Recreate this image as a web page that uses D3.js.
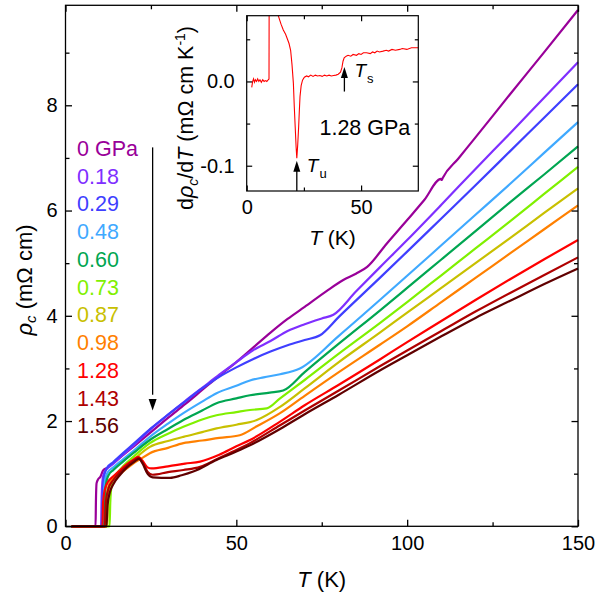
<!DOCTYPE html>
<html>
<head>
<meta charset="utf-8">
<script src="https://cdn.jsdelivr.net/npm/d3@7"></script>
<style>
  body { margin: 0; background: #fff; }
  svg { font-family: "Liberation Sans", Arial, sans-serif; }
</style>
</head>
<body>
<div id="chart"></div>
<script>
// Pressure labels and line colours (one per curve)
const pressures = ["0 GPa", "0.18", "0.29", "0.48", "0.60", "0.73", "0.87", "0.98", "1.28", "1.43", "1.56"];
const colors = ["#990099", "#7f2fff", "#3f3fff", "#3fa9ff", "#00a651", "#80f000", "#c8c000", "#ff8000", "#ff0000", "#b00000", "#600000"];

// Temperature (K) and resistivity rho_c (mOhm cm)
const T_000 = [1.8, 8.8, 8.9, 9.1, 9.6, 10.2, 11, 12.5, 14, 17, 20, 25, 30, 35, 40, 45, 50, 55, 60, 65, 70, 76.4, 81.3, 85, 88.3, 94, 100, 105, 109.9, 110.1, 110.4, 115, 120, 130, 140, 150];
const R_000 = [0, 0, 0.45, 0.82, 0.9, 0.94, 1.06, 1.12, 1.2, 1.36, 1.52, 1.79, 2.06, 2.32, 2.59, 2.86, 3.12, 3.40, 3.68, 3.94, 4.17, 4.47, 4.68, 4.8, 4.93, 5.37, 5.82, 6.2, 6.6, 6.58, 6.62, 6.99, 7.39, 8.2, 9.0, 9.81];
const T_018 = [1.8, 10.4, 10.6, 11, 12, 14, 17, 20, 25, 30, 35, 40, 45, 50, 55, 60, 65, 70, 75, 78.4, 85, 92, 100, 110, 120, 130, 140, 150];
const R_018 = [0, 0, 0.6, 0.95, 1.08, 1.19, 1.37, 1.54, 1.85, 2.12, 2.38, 2.63, 2.88, 3.12, 3.35, 3.52, 3.71, 3.84, 3.95, 4.02, 4.46, 4.92, 5.44, 6.11, 6.79, 7.46, 8.14, 8.82];
const T_029 = [1.8, 10.7, 10.9, 11.3, 12, 14, 17, 20, 25, 30, 35, 40, 45, 50, 55, 60, 65, 70, 74.5, 80, 92, 100, 110, 120, 130, 140, 150];
const R_029 = [0, 0, 0.6, 0.95, 1.1, 1.22, 1.4, 1.57, 1.86, 2.12, 2.37, 2.62, 2.84, 3.02, 3.18, 3.32, 3.44, 3.54, 3.63, 3.98, 4.72, 5.22, 5.85, 6.48, 7.12, 7.76, 8.40];
const T_048 = [1.8, 11.0, 11.2, 11.6, 12.3, 14, 17, 20, 24.7, 30, 34.5, 40, 44.2, 50, 54, 58, 62.8, 68.6, 80, 92, 100, 110, 120, 130, 140, 150];
const R_048 = [0, 0, 0.55, 0.88, 1.02, 1.12, 1.28, 1.44, 1.70, 1.95, 2.15, 2.37, 2.53, 2.67, 2.77, 2.83, 2.89, 3.0, 3.62, 4.3, 4.76, 5.34, 5.92, 6.5, 7.09, 7.68];
const T_060 = [1.8, 11.3, 11.5, 11.9, 12.6, 14, 17, 20, 24.7, 30, 34.5, 40, 44.2, 50, 54, 59.8, 63.7, 70, 80, 92, 100, 110, 120, 130, 140, 150];
const R_060 = [0, 0, 0.5, 0.82, 0.97, 1.07, 1.24, 1.4, 1.64, 1.85, 2.02, 2.2, 2.34, 2.43, 2.49, 2.54, 2.58, 2.93, 3.47, 4.1, 4.53, 5.07, 5.61, 6.15, 6.68, 7.22];
const T_073 = [1.8, 12.9, 13.1, 13.5, 14.2, 15, 17, 20, 24.7, 30, 34.5, 40, 44.2, 50, 54, 58.9, 62.8, 70, 80, 92, 100, 110, 120, 130, 140, 150];
const R_073 = [0, 0, 0.45, 0.78, 0.92, 1.0, 1.15, 1.33, 1.58, 1.76, 1.89, 2.03, 2.11, 2.17, 2.21, 2.24, 2.43, 2.78, 3.28, 3.86, 4.26, 4.77, 5.28, 5.79, 6.31, 6.83];
const T_087 = [1.8, 12.2, 12.4, 12.8, 13.5, 15, 17, 20, 24.7, 30, 34.5, 40, 44.2, 50, 56, 62.8, 70, 80, 92, 100, 110, 120, 130, 140, 150];
const R_087 = [0, 0, 0.45, 0.75, 0.88, 0.98, 1.1, 1.27, 1.51, 1.62, 1.70, 1.79, 1.86, 1.93, 2.02, 2.27, 2.62, 3.12, 3.68, 4.06, 4.53, 5.0, 5.47, 5.95, 6.42];
const T_098 = [1.8, 11.8, 12.0, 12.4, 13.2, 14.5, 17, 20, 22, 24.7, 30, 34.5, 40, 45, 51, 56, 62.8, 70, 80, 92, 100, 110, 120, 130, 140, 150];
const R_098 = [0, 0, 0.45, 0.72, 0.85, 0.93, 1.05, 1.2, 1.28, 1.39, 1.49, 1.58, 1.63, 1.68, 1.73, 1.9, 2.15, 2.48, 2.93, 3.45, 3.8, 4.26, 4.72, 5.18, 5.64, 6.10];
const T_128 = [1.8, 10.8, 11.0, 11.5, 12.5, 14, 16, 18, 20, 21.3, 22.5, 24, 25.2, 30, 35, 39.4, 45, 50, 54, 62.8, 70, 80, 92, 100, 110, 120, 130, 140, 150];
const R_128 = [0, 0, 0.45, 0.7, 0.85, 0.95, 1.07, 1.18, 1.27, 1.32, 1.25, 1.12, 1.10, 1.14, 1.19, 1.23, 1.36, 1.52, 1.64, 1.99, 2.3, 2.69, 3.17, 3.5, 3.9, 4.3, 4.69, 5.07, 5.44];
const T_143 = [1.8, 11.5, 11.8, 12.5, 14, 16, 18, 20, 21.5, 22.5, 24, 25.5, 30, 34.5, 39.4, 45, 50, 54, 62.8, 70, 80, 92, 100, 110, 120, 130, 140, 150];
const R_143 = [0, 0, 0.45, 0.7, 0.88, 1.03, 1.15, 1.25, 1.3, 1.22, 1.04, 0.98, 1.03, 1.07, 1.13, 1.3, 1.45, 1.58, 1.92, 2.2, 2.58, 3.04, 3.34, 3.71, 4.08, 4.43, 4.77, 5.11];
const T_156 = [1.8, 12.0, 12.3, 13, 14, 16, 18, 20, 21.5, 22.5, 24, 25.5, 30.6, 34, 37.4, 44.2, 50, 54, 62.8, 70, 80, 92, 100, 110, 120, 130, 140, 150];
const R_156 = [0, 0, 0.4, 0.65, 0.8, 0.98, 1.12, 1.22, 1.28, 1.2, 1.0, 0.93, 0.92, 0.97, 1.04, 1.26, 1.42, 1.54, 1.85, 2.13, 2.5, 2.96, 3.25, 3.61, 3.96, 4.28, 4.6, 4.90];

const temps = [T_000, T_018, T_029, T_048, T_060, T_073, T_087, T_098, T_128, T_143, T_156];
const rhos = [R_000, R_018, R_029, R_048, R_060, R_073, R_087, R_098, R_128, R_143, R_156];

// Inset: d(rho_c)/dT at 1.28 GPa
const insetT = [2.2, 2.6, 3.0, 3.4, 3.8, 4.3, 4.8, 5.3, 5.8, 6.4, 7.0, 7.6, 8.2, 8.8, 9.4, 9.75, 9.85, 13.2, 13.8, 15, 16, 17, 17.7, 18.5, 19.2, 19.8, 20.4, 20.8, 21.2, 21.6, 21.9, 22.3, 22.7, 23.0, 23.3, 23.8, 24.4, 25.2, 26.2, 27, 28, 29, 30, 31, 32, 33, 34, 35, 36, 37, 38, 39, 40, 41, 41.6, 42.1, 42.6, 43.5, 44.3, 45.5, 46.5, 48, 49, 50, 51, 52.4, 54, 55, 56, 57, 58, 59.6, 61, 62, 63.5, 65, 66.9, 68, 70, 72, 74.9];
const insetD = [-0.007, 0.0, 0.003, -0.001, 0.002, 0.0, 0.003, 0.0, 0.002, -0.001, 0.002, 0.0, 0.001, 0.0, 0.002, 0.003, 0.15, 0.15, 0.078, 0.068, 0.061, 0.056, 0.051, 0.045, 0.037, 0.02, -0.002, -0.03, -0.054, -0.078, -0.091, -0.075, -0.054, -0.035, -0.018, -0.005, 0.0015, 0.005, 0.0065, 0.0055, 0.0075, 0.006, 0.0075, 0.0065, 0.007, 0.006, 0.0075, 0.0065, 0.0075, 0.0065, 0.007, 0.0075, 0.0085, 0.011, 0.016, 0.024, 0.028, 0.03, 0.031, 0.030, 0.032, 0.031, 0.033, 0.032, 0.034, 0.034, 0.033, 0.035, 0.034, 0.036, 0.035, 0.036, 0.037, 0.036, 0.038, 0.037, 0.038, 0.039, 0.038, 0.04, 0.04];

// Tick values
const xMajor = [0, 50, 100, 150], xMinor = [25, 75, 125];
const yMajor = [0, 2, 4, 6, 8], yMinor = [1, 3, 5, 7, 9];
const ixMajor = [0, 50], ixMinor = [25];
const iyMajor = [-0.1, 0.0], iyMinor = [-0.05, 0.05];

// Set dimensions and margins for the chart
const W = 599, H = 597;
const margin = { top: 5.3, left: 65.5 };
const width = 512.5, height = 521;

const svg = d3.select("#chart")
    .append("svg")
    .attr("width", W)
    .attr("height", H);

const g = svg.append("g")
    .attr("transform", `translate(${margin.left},${margin.top})`);

const x = d3.scaleLinear().domain([0, 150]).range([0, width]);
const y = d3.scaleLinear().domain([0, 9.9]).range([height, 0]);

// draws a frame with inward ticks on all four sides
function drawFrame(sel, xs, ys, w, h, o) {
    const none = () => "";
    const parts = [
        [d3.axisBottom, xs, `translate(0,${h})`, o.xMajor, o.xMinor, o.xFmt, o.padX],
        [d3.axisTop, xs, null, o.xMajor, o.xMinor, none, 0],
        [d3.axisLeft, ys, null, o.yMajor, o.yMinor, o.yFmt, o.padY],
        [d3.axisRight, ys, `translate(${w},0)`, o.yMajor, o.yMinor, none, 0]
    ];
    parts.forEach(([make, sc, tr, maj, min, fmt, pad]) => {
        const a1 = sel.append("g").call(make(sc).tickValues(maj).tickSizeInner(-o.major).tickSizeOuter(0).tickFormat(fmt).tickPadding(pad));
        const a2 = sel.append("g").call(make(sc).tickValues(min).tickSizeInner(-o.minor).tickSizeOuter(0).tickFormat(none));
        [a1, a2].forEach(a => {
            if (tr) a.attr("transform", tr);
            a.select(".domain").remove();
            a.selectAll("line").attr("stroke", "#000").attr("stroke-width", o.sw);
            a.selectAll("text").attr("font-size", o.fs).attr("fill", "#000")
                .attr("font-family", "'Liberation Sans', Arial, sans-serif");
        });
    });
    sel.append("rect")
        .attr("width", w).attr("height", h)
        .attr("fill", "none").attr("stroke", "#000").attr("stroke-width", o.sw);
}

// Main curves
const line = d3.line()
    .x(d => x(d[0]))
    .y(d => y(d[1]))
    .curve(d3.curveMonotoneX);

pressures.forEach((p, i) => {
    const pts = temps[i].map((t, k) => [t, rhos[i][k]]);
    g.append("path")
        .datum(pts)
        .attr("d", line)
        .attr("fill", "none")
        .attr("stroke", colors[i])
        .attr("stroke-width", 2.2)
        .attr("stroke-linejoin", "round");
});

drawFrame(g, x, y, width, height, {
    xMajor, xMinor, yMajor, yMinor, major: 6.5, minor: 4, sw: 1.3, fs: 20,
    xFmt: d3.format("d"), yFmt: d3.format("d"), padX: 10, padY: 8
});

// Axis labels
svg.append("text")
    .attr("x", margin.left + x(75))
    .attr("y", 587)
    .attr("text-anchor", "middle")
    .attr("font-size", 22)
    .html('<tspan font-style="italic">T</tspan> (K)');

svg.append("text")
    .attr("transform", "translate(31.5,280) rotate(-90)")
    .attr("text-anchor", "middle")
    .attr("font-size", 22)
    .html('<tspan font-style="italic">ρ</tspan><tspan font-style="italic" font-size="15" dy="4">c</tspan><tspan dy="-4"> (mΩ cm)</tspan>');

// Legend
pressures.forEach((p, i) => {
    svg.append("text")
        .attr("x", 77)
        .attr("y", 156 + i * 27.73)
        .attr("font-size", 21.5)
        .attr("fill", colors[i])
        .text(p);
});

// Legend arrow
const ax = margin.left + x(25.5);
svg.append("line")
    .attr("x1", ax).attr("x2", ax)
    .attr("y1", margin.top + y(7.2)).attr("y2", margin.top + y(2.5))
    .attr("stroke", "#000").attr("stroke-width", 1.3);
svg.append("path")
    .attr("d", `M${ax - 4},${margin.top + y(2.42)} L${ax + 4},${margin.top + y(2.42)} L${ax},${margin.top + y(2.2)} Z`)
    .attr("fill", "#000");

// Inset
const inset = { left: 246.7, top: 15.7, width: 171.6, height: 175.3 };
const gi = svg.append("g")
    .attr("transform", `translate(${inset.left},${inset.top})`);

const xi = d3.scaleLinear().domain([0, 75]).range([0, inset.width]);
const yi = d3.scaleLinear().domain([-0.13, 0.078]).range([inset.height, 0]);

gi.append("rect")
    .attr("width", inset.width).attr("height", inset.height)
    .attr("fill", "#fff");

svg.append("clipPath").attr("id", "insetClip")
    .append("rect").attr("width", inset.width).attr("height", inset.height);

gi.append("path")
    .datum(insetT.map((t, k) => [t, insetD[k]]))
    .attr("clip-path", "url(#insetClip)")
    .attr("d", d3.line().x(d => xi(d[0])).y(d => yi(d[1])))
    .attr("fill", "none")
    .attr("stroke", "#ff0000")
    .attr("stroke-width", 1.1);

drawFrame(gi, xi, yi, inset.width, inset.height, {
    xMajor: ixMajor, xMinor: ixMinor, yMajor: iyMajor, yMinor: iyMinor, major: 5.5, minor: 3.5, sw: 1.2, fs: 20,
    xFmt: d3.format("d"), yFmt: d => d.toFixed(1), padX: 9, padY: 12
});

// Inset arrows for T_u and T_s
function upArrow(t, v0, v1) {
    const px = xi(t);
    gi.append("line")
        .attr("x1", px).attr("x2", px)
        .attr("y1", yi(v0)).attr("y2", yi(v1) + 8)
        .attr("stroke", "#000").attr("stroke-width", 1.3);
    gi.append("path")
        .attr("d", `M${px - 3.5},${yi(v1) + 11} L${px + 3.5},${yi(v1) + 11} L${px},${yi(v1)} Z`)
        .attr("fill", "#000");
}
upArrow(21.9, -0.13, -0.094);
upArrow(42.7, -0.012, 0.017);

gi.append("text")
    .attr("x", xi(26.3)).attr("y", yi(-0.107))
    .attr("font-size", 19)
    .html('<tspan font-style="italic">T</tspan><tspan font-size="13" dy="6" dx="1">u</tspan>');
gi.append("text")
    .attr("x", xi(47.1)).attr("y", yi(0.005))
    .attr("font-size", 19)
    .html('<tspan font-style="italic">T</tspan><tspan font-size="13" dy="6" dx="1">s</tspan>');
gi.append("text")
    .attr("x", inset.width - 8).attr("y", yi(-0.0635))
    .attr("text-anchor", "end")
    .attr("font-size", 21.5)
    .text("1.28 GPa");

// Inset axis labels
svg.append("text")
    .attr("x", inset.left + inset.width / 2)
    .attr("y", 245)
    .attr("text-anchor", "middle")
    .attr("font-size", 21)
    .html('<tspan font-style="italic">T</tspan> (K)');

svg.append("text")
    .attr("transform", "translate(193,118) rotate(-90)")
    .attr("text-anchor", "middle")
    .attr("font-size", 21.5)
    .html('d<tspan font-style="italic">ρ</tspan><tspan font-style="italic" font-size="14" dy="5">c</tspan><tspan dy="-5">/d</tspan><tspan font-style="italic">T</tspan> (mΩ cm K<tspan font-size="14" dy="-8">-1</tspan><tspan dy="8">)</tspan>');
</script>
</body>
</html>
